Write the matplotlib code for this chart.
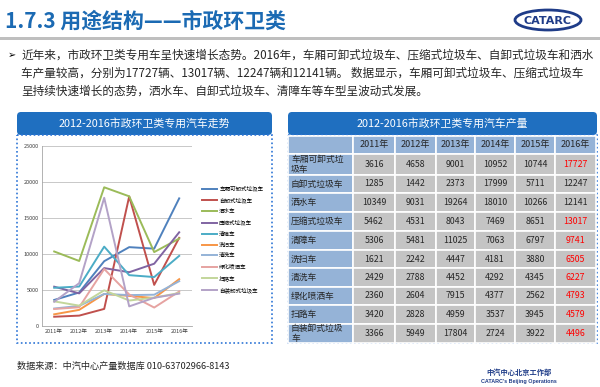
import matplotlib.pyplot as plt
from matplotlib.patches import Rectangle, FancyBboxPatch, Ellipse

plt.rcParams['font.family'] = ['Noto Sans CJK SC', 'DejaVu Sans']

# ---- data ----
years = ['2011年', '2012年', '2013年', '2014年', '2015年', '2016年']
names = ['车厢可卸式垃圾车', '自卸式垃圾车', '洒水车', '压缩式垃圾车', '清障车',
         '洗扫车', '清洗车', '绿化喷洒车', '扫路车', '自装卸式垃圾车']
table_names = ['车厢可卸式垃\n圾车', '自卸式垃圾车', '洒水车', '压缩式垃圾车', '清障车',
               '洗扫车', '清洗车', '绿化喷洒车', '扫路车', '自装卸式垃圾\n车']
chexiang = [3616, 4658, 9001, 10952, 10744, 17727]
zixie = [1285, 1442, 2373, 17999, 5711, 12247]
sashui = [10349, 9031, 19264, 18010, 10266, 12141]
yasuo = [5462, 4531, 8043, 7469, 8651, 13017]
qingzhang = [5306, 5481, 11025, 7063, 6797, 9741]
xisao = [1621, 2242, 4447, 4181, 3880, 6505]
qingxi = [2429, 2788, 4452, 4292, 4345, 6227]
lvhua = [2360, 2604, 7915, 4377, 2562, 4793]
saolu = [3420, 2828, 4959, 3537, 3945, 4579]
zizhuang = [3366, 5949, 17804, 2724, 3922, 4496]
series = [chexiang, zixie, sashui, yasuo, qingzhang, xisao, qingxi, lvhua, saolu, zizhuang]
red_2016 = [True, False, False, True, True, True, True, True, True, True]

colors = ['#4F81BD', '#C0504D', '#9BBB59', '#8064A2', '#4BACC6',
          '#F79646', '#95B3D7', '#E6A3A1', '#C3D69B', '#B3A2C7']

blue = '#1F6FC0'

fig = plt.figure(figsize=(6, 3.87), dpi=100)
bg = fig.add_axes([0, 0, 1, 1])
bg.set_xlim(0, 600)
bg.set_ylim(387, 0)
bg.axis('off')

# title bar
bg.text(5, 21, '1.7.3 用途结构——市政环卫类', fontsize=15, fontweight='bold',
        color='#1B6AB3', va='center', ha='left')
bg.add_patch(Rectangle((0, 37), 600, 3, color='#BFBFBF', lw=0))
bg.add_patch(Ellipse((548, 20), 66, 20, fill=False, ec='#1F3C88', lw=2))
bg.text(548, 20.5, 'CATARC', fontsize=8, fontweight='bold', color='#1F3C88',
        ha='center', va='center', family='DejaVu Sans')

# bullet text
lines = ['近年来，市政环卫类专用车呈快速增长态势。2016年，车厢可卸式垃圾车、压缩式垃圾车、自卸式垃圾车和洒水',
         '车产量较高，分别为17727辆、13017辆、12247辆和12141辆。 数据显示，车厢可卸式垃圾车、压缩式垃圾车',
         '呈持续快速增长的态势，洒水车、自卸式垃圾车、清障车等车型呈波动式发展。']
bg.text(8, 55, '➢', fontsize=7, va='center', family=['DejaVu Sans'])
for i, s in enumerate(lines):
    bg.text(21, 55 + i * 18, s, fontsize=8.4, va='center', color='#262626')

# panel headers
for x0, x1, t in [(17, 272, '2012-2016市政环卫类专用汽车走势'),
                  (288, 597, '2012-2016市政环卫类专用汽车产量')]:
    bg.add_patch(FancyBboxPatch((x0, 112), x1 - x0, 23, boxstyle='round,pad=0,rounding_size=4',
                                fc=blue, ec='none'))
    bg.text((x0 + x1) / 2, 123.5, t, color='white', fontsize=7.8, ha='center', va='center')

# dotted frames
bg.add_patch(Rectangle((17, 135), 255, 208, fill=False, ec='#2E75D6', lw=1.2, ls=(0, (1, 1.5))))
bg.add_patch(Rectangle((288, 135), 309, 208, fill=False, ec='#2E75D6', lw=1.2, ls=(0, (1, 1.5))))

# table
cx = [288, 353, 395, 436, 475, 515, 555, 596]
ry = [136, 154, 175, 193, 212, 231, 250, 268, 287, 305, 324, 343]
light = '#95B3D7'
gray = '#C4C4C4'
for r in range(len(ry) - 1):
    for c in range(len(cx) - 1):
        fc = light if (r == 0 or c == 0) else gray
        bg.add_patch(Rectangle((cx[c], ry[r]), cx[c + 1] - cx[c], ry[r + 1] - ry[r],
                               fc=fc, ec='white', lw=1.2))
for c, y in enumerate(years):
    bg.text((cx[c + 1] + cx[c + 2]) / 2, (ry[0] + ry[1]) / 2, y, fontsize=6.5,
            ha='center', va='center', color='#262626')
for r, (nm, vals) in enumerate(zip(table_names, series)):
    yc = (ry[r + 1] + ry[r + 2]) / 2
    bg.text(cx[0] + 3, yc, nm, fontsize=6.3, ha='left', va='center', color='#262626',
            linespacing=1.05)
    for c, v in enumerate(vals):
        col = '#FF0000' if (c == 5 and red_2016[r]) else '#262626'
        bg.text((cx[c + 1] + cx[c + 2]) / 2, yc, str(v), fontsize=6.3,
                ha='center', va='center', color=col)

# footer
bg.text(17, 366, '数据来源：中汽中心产量数据库 010-63702966-8143', fontsize=6.6,
        va='center', color='#262626')
bg.text(519, 372, '中汽中心北京工作部', fontsize=5.2, ha='center', va='center',
        color='#1F3C88', fontweight='bold')
bg.text(519, 381, "CATARC's Beijing Operations", fontsize=3.9, ha='center', va='center',
        color='#1F3C88', fontweight='bold', family='Liberation Sans')

# line chart
ax = fig.add_axes([41.7 / 600, 1 - 326 / 387, 150 / 600, 180 / 387])
x = range(len(years))
for name, vals, col in zip(names, series, colors):
    ax.plot(x, vals, color=col, lw=1.4, label=name)
ax.set_xlim(-0.5, 5.5)
ax.set_ylim(0, 25000)
ax.set_yticks(range(0, 25001, 5000))
ax.set_xticks(list(x))
ax.set_xticklabels(years)
ax.tick_params(labelsize=4, length=0, pad=2, colors='#404040')
ax.yaxis.grid(True, color='#BFBFBF', lw=0.6)
ax.set_axisbelow(True)
for sp in ['top', 'right']:
    ax.spines[sp].set_visible(False)
for sp in ['left', 'bottom']:
    ax.spines[sp].set_color('#A6A6A6')
    ax.spines[sp].set_linewidth(0.6)
ax.legend(loc='upper left', bbox_to_anchor=(202 / 600, 1 - 186 / 387),
          bbox_transform=fig.transFigure, frameon=False, fontsize=4,
          handlelength=2.7, labelspacing=1.05, handletextpad=0.4, borderaxespad=0,
          borderpad=0)

fig.savefig('out.png', dpi=100)
